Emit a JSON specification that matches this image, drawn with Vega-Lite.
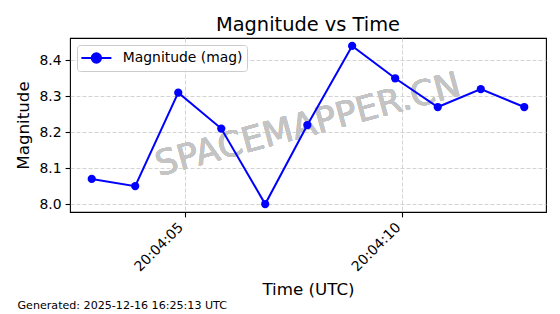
{
  "$schema": "https://vega.github.io/schema/vega-lite/v6.json",
  "autosize": "none",
  "width": 476,
  "height": 174,
  "padding": {"left": 70, "top": 38, "right": 14, "bottom": 102},
  "background": "white",
  "title": {
    "text": "Magnitude vs Time",
    "fontSize": 19.4,
    "fontWeight": "normal",
    "font": "DejaVu Sans",
    "color": "black",
    "anchor": "middle",
    "frame": "group",
    "baseline": "alphabetic",
    "offset": -12
  },
  "config": {
    "font": "DejaVu Sans",
    "view": {"stroke": "black", "strokeWidth": 1.1},
    "axis": {
      "labelFont": "DejaVu Sans",
      "labelFontSize": 13.9,
      "labelColor": "black",
      "titleFont": "DejaVu Sans",
      "titleColor": "black",
      "titleFontWeight": "normal",
      "tickColor": "black",
      "tickSize": 4.9,
      "tickWidth": 1.1,
      "domain": false,
      "gridColor": "#c8c8c8",
      "gridDash": [4, 2],
      "gridWidth": 0.8
    }
  },
  "data": {
    "values": [
      {"time": "2025-12-15T20:04:02.860Z", "magnitude": 8.07},
      {"time": "2025-12-15T20:04:03.860Z", "magnitude": 8.05},
      {"time": "2025-12-15T20:04:04.850Z", "magnitude": 8.31},
      {"time": "2025-12-15T20:04:05.840Z", "magnitude": 8.21},
      {"time": "2025-12-15T20:04:06.850Z", "magnitude": 8.00},
      {"time": "2025-12-15T20:04:07.820Z", "magnitude": 8.22},
      {"time": "2025-12-15T20:04:08.850Z", "magnitude": 8.44},
      {"time": "2025-12-15T20:04:09.840Z", "magnitude": 8.35},
      {"time": "2025-12-15T20:04:10.820Z", "magnitude": 8.27},
      {"time": "2025-12-15T20:04:11.810Z", "magnitude": 8.32},
      {"time": "2025-12-15T20:04:12.810Z", "magnitude": 8.27}
    ]
  },
  "resolve": {"axis": {"x": "independent", "y": "independent"}},
  "layer": [
    {
      "mark": {
        "type": "text",
        "text": "SPACEMAPPER.CN",
        "angle": 345,
        "fontSize": 35,
        "font": "DejaVu Sans",
        "fill": "#c4c4c4",
        "opacity": 1,
        "align": "center",
        "baseline": "middle"
      },
      "encoding": {
        "x": {
          "datum": {"year": 2025, "month": 12, "date": 15, "hours": 20, "minutes": 4, "seconds": 7, "milliseconds": 835, "utc": true},
          "type": "temporal",
          "scale": {
            "type": "utc",
            "domain": [
              {"year": 2025, "month": 12, "date": 15, "hours": 20, "minutes": 4, "seconds": 2, "milliseconds": 360, "utc": true},
              {"year": 2025, "month": 12, "date": 15, "hours": 20, "minutes": 4, "seconds": 13, "milliseconds": 310, "utc": true}
            ]
          },
          "axis": {
            "orient": "bottom",
            "title": "Generated: 2025-12-16 16:25:13 UTC",
            "domain": false,
            "ticks": false,
            "labels": false,
            "grid": false,
            "titleAnchor": "start",
            "titleAlign": "left",
            "titleBaseline": "alphabetic",
            "titleX": -53,
            "titleY": 96,
            "titleFontSize": 11.1,
            "titleFontWeight": "normal",
            "titleColor": "black"
          }
        },
        "y": {
          "datum": 8.22,
          "type": "quantitative",
          "scale": {"domain": [7.978, 8.462], "nice": false, "zero": false},
          "axis": null
        }
      }
    },
    {
      "mark": {
        "type": "line",
        "strokeWidth": 2,
        "point": {"filled": true, "size": 68, "opacity": 1}
      },
      "encoding": {
        "x": {
          "field": "time",
          "type": "temporal",
          "scale": {
            "type": "utc",
            "domain": [
              {"year": 2025, "month": 12, "date": 15, "hours": 20, "minutes": 4, "seconds": 2, "milliseconds": 360, "utc": true},
              {"year": 2025, "month": 12, "date": 15, "hours": 20, "minutes": 4, "seconds": 13, "milliseconds": 310, "utc": true}
            ]
          },
          "axis": {
            "orient": "bottom",
            "title": "Time (UTC)",
            "titleFontSize": 16.7,
            "titleBaseline": "alphabetic",
            "titleY": 82,
            "labelExpr": "utcFormat(datum.value, '%H:%M:%S')",
            "values": [
              {"year": 2025, "month": 12, "date": 15, "hours": 20, "minutes": 4, "seconds": 5, "utc": true},
              {"year": 2025, "month": 12, "date": 15, "hours": 20, "minutes": 4, "seconds": 10, "utc": true}
            ],
            "labelAngle": -45,
            "labelAlign": "right",
            "labelBaseline": "top",
            "labelPadding": 3,
            "labelOffset": -9,
            "grid": true
          }
        },
        "y": {
          "field": "magnitude",
          "type": "quantitative",
          "scale": {"domain": [7.978, 8.462], "nice": false, "zero": false},
          "axis": {
            "orient": "left",
            "title": "Magnitude",
            "titleFontSize": 16.7,
            "titleAngle": 270,
            "titleAlign": "center",
            "titleBaseline": "alphabetic",
            "titleX": -42,
            "titleY": 87,
            "values": [8.0, 8.1, 8.2, 8.3, 8.4],
            "format": ".1f",
            "labelPadding": 4,
            "grid": true
          }
        },
        "color": {
          "datum": "Magnitude (mag)",
          "type": "nominal",
          "scale": {"range": ["#0000ff"]},
          "legend": {
            "title": null,
            "orient": "top-left",
            "offset": 7,
            "padding": 4,
            "symbolType": "M-1.875,0L1.875,0M-0.58,0A0.58,0.58,0,1,0,0.58,0A0.58,0.58,0,1,0,-0.58,0Z",
            "symbolSize": 256,
            "symbolOffset": 6.4,
            "symbolStrokeWidth": 2,
            "symbolFillColor": "#0000ff",
            "symbolStrokeColor": "#0000ff",
            "labelFontSize": 13.9,
            "labelFont": "DejaVu Sans",
            "labelColor": "black",
            "labelOffset": 17.4,
            "strokeColor": "#cccccc",
            "fillColor": "rgba(255,255,255,0.8)",
            "cornerRadius": 3
          }
        }
      }
    }
  ]
}
